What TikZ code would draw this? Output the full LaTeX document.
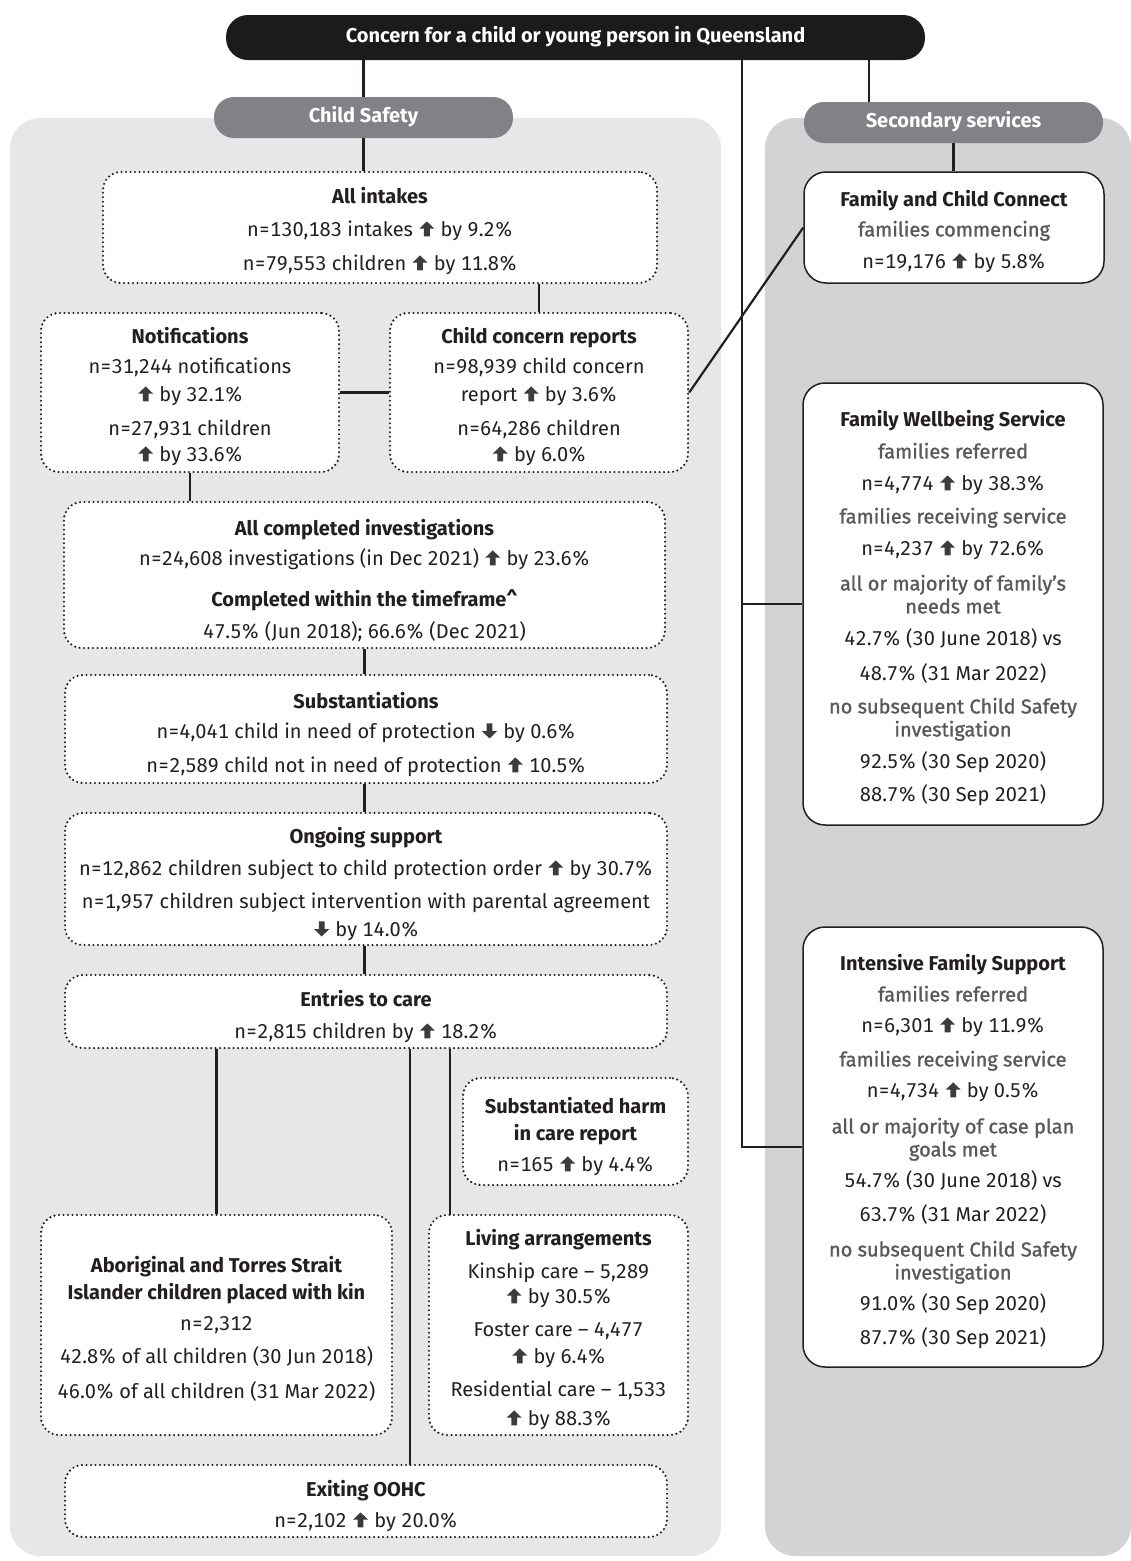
\documentclass[tikz,border=0pt]{standalone}
\usepackage{fontspec}
\setmainfont{Fira Sans}[Numbers={Monospaced,Lining}]
\newfontfamily\medfont[FakeBold=1.2,Numbers={Monospaced,Lining}]{Fira Sans}
\usetikzlibrary{fit}
\definecolor{panelA}{HTML}{E6E7E8}
\definecolor{panelB}{HTML}{D1D3D4}
\definecolor{pillc}{HTML}{808285}
\definecolor{barc}{HTML}{1C1A1B}
\definecolor{ink}{HTML}{231F20}
\definecolor{subc}{HTML}{58595B}
\definecolor{arrowc}{HTML}{3D3B3C}
\newcommand\uarr{\hspace{1pt}\tikz[baseline=0pt,x=1pt,y=1pt]{\fill[arrowc] (-2.9,0)--(-2.9,7.8)--(-7.5,7.8)--(0,15)--(7.5,7.8)--(2.9,7.8)--(2.9,0)--cycle;}\hspace{1pt}}
\newcommand\darr{\hspace{1pt}\tikz[baseline=0pt,x=1pt,y=1pt]{\fill[arrowc] (-2.9,15)--(-2.9,7.2)--(-7.5,7.2)--(0,0)--(7.5,7.2)--(2.9,7.2)--(2.9,15)--cycle;}\hspace{1pt}}
\newcommand\subtl[1]{{\medfont\color{subc}#1}}
\newcommand\ttl[1]{{\bfseries#1}}
\begin{document}
\begin{tikzpicture}[x=1pt,y=-1pt,
  dbox/.style={draw=ink, fill=white, rounded corners=18pt, dash pattern=on 0pt off 4.5pt, line cap=round, line width=2.4pt, inner sep=0pt},
  sbox/.style={draw=ink, fill=white, rounded corners=22pt, line width=1.5pt, inner sep=0pt},
  txt/.style={anchor=north, inner sep=0pt, align=center, font=\fontsize{20}{24}\selectfont, text=ink},
  pill/.style={fill=pillc, rounded corners=20pt, text=white, font=\bfseries\fontsize{20}{24}\selectfont, inner sep=0pt, text height=14pt, text depth=4pt, minimum width=299pt, minimum height=41pt},
  con/.style={draw=ink, line width=2.2pt}]
\useasboundingbox (0,0) rectangle (1131,1561);
% panels
\fill[panelA, rounded corners=30pt] (10,118) rectangle (721,1556);
\fill[panelB, rounded corners=30pt] (765,118) rectangle (1131,1556);
% header nodes
\node[fill=barc, rounded corners=22pt, text=white, font=\bfseries\fontsize{20}{24}\selectfont, inner sep=0pt, text height=14pt, text depth=4pt, minimum width=699pt, minimum height=45pt] (bar) at (575.5,37.5) {Concern for a child or young person in Queensland};
\node[pill] (cspill) at (363.5,117.5) {Child Safety};
\node[pill] (secpill) at (953.5,122.5) {Secondary services};
% boxes child safety
\node[dbox, fit={(103,172) (657,283)}] (intakes) {};
\node[dbox, fit={(41,313) (339,472)}] (notif) {};
\node[dbox, fit={(390,313) (688,472)}] (ccr) {};
\node[dbox, fit={(64,502) (665,648)}] (aci) {};
\node[dbox, fit={(65,675) (667,783)}] (subst) {};
\node[dbox, fit={(65,813) (667,945)}] (ongoing) {};
\node[dbox, fit={(65,975) (667,1048)}] (entries) {};
\node[dbox, fit={(463,1078) (688,1185)}] (sharm) {};
\node[dbox, fit={(41,1215) (392,1435)}] (abor) {};
\node[dbox, fit={(429,1215) (688,1435)}] (living) {};
\node[dbox, fit={(65,1465) (667,1537)}] (oohc) {};
% boxes secondary
\node[sbox, fit={(804,172) (1104,283)}] (fcc) {};
\node[sbox, fit={(803,383) (1103,825)}] (fws) {};
\node[sbox, fit={(803,927) (1103,1367)}] (ifs) {};
% connector coordinates
\coordinate (j1) at (869,60);
\coordinate (j2) at (742,60);
\coordinate (j3) at (410,1465);
\coordinate (j4) at (450,1215);
% connectors
\draw[con] (cspill.north) -- (cspill.north |- bar.south);
\draw[con] (j1) -- (j1 |- secpill.north);
\draw[con] (j2) |- (ifs.west);
\draw[con] (fws.west) -- (fws.west -| j2);
\draw[con] (cspill.south) -- (cspill.south |- intakes.north);
\draw[con] (secpill.south) -- (secpill.south |- fcc.north);
\draw[con] (ccr.north) -- (ccr.north |- intakes.south);
\draw[con] (notif.east) -- (ccr.west);
\draw[con] (ccr.east) -- (fcc.west);
\draw[con] (notif.south) -- (notif.south |- aci.north);
\draw[con] (aci.south) -- (aci.south |- subst.north);
\draw[con] (aci.south |- subst.south) -- (aci.south |- ongoing.north);
\draw[con] (aci.south |- ongoing.south) -- (aci.south |- entries.north);
\draw[con] (abor.north) -- (abor.north |- entries.south);
\draw[con] (j3) -- (j3 |- entries.south);
\draw[con] (j4) -- (j4 |- entries.south);
% texts
\node[txt] (intakes-t) at (380,187) {\ttl{All intakes}\\[9pt]
 n=130,183 intakes \uarr{} by 9.2\%\\[10pt]
 n=79,553 children \uarr{} by 11.8\%};
\node[txt] (notif-t) at (190,327) {\ttl{Notifications}\\[6pt]
 n=31,244 notifications\\[4pt]
 \uarr{} by 32.1\%\\[10pt]
 n=27,931 children\\[2pt]
 \uarr{} by 33.6\%};
\node[txt] (ccr-t) at (539,327) {\ttl{Child concern reports}\\[6pt]
 n=98,939 child concern\\[4pt]
 report \uarr{} by 3.6\%\\[10pt]
 n=64,286 children\\[2pt]
 \uarr{} by 6.0\%};
\node[txt] (aci-t) at (364.5,519) {\ttl{All completed investigations}\\[6pt]
 n=24,608 investigations (in Dec 2021) \uarr{} by 23.6\%\\[17pt]
 \ttl{Completed within the timeframe\textasciicircum}\\[8pt]
 47.5\% (Jun 2018); 66.6\% (Dec 2021)};
\node[txt] (subst-t) at (366,692) {\ttl{Substantiations}\\[6pt]
 n=4,041 child in need of protection \darr{} by 0.6\%\\[10pt]
 n=2,589 child not in need of protection \uarr{} 10.5\%};
\node[txt] (ongoing-t) at (366,827) {\ttl{Ongoing support}\\[8pt]
 n=12,862 children subject to child protection order \uarr{} by 30.7\%\\[9pt]
 n=1,957 children subject intervention with parental agreement\\[4pt]
 \darr{} by 14.0\%};
\node[txt] (entries-t) at (366,990) {\ttl{Entries to care}\\[8pt]
 n=2,815 children by \uarr{} 18.2\%};
\node[txt] (sharm-t) at (575.5,1097) {\ttl{Substantiated harm}\\[3pt]
 \ttl{in care report}\\[7pt]
 n=165 \uarr{} by 4.4\%};
\node[txt] (abor-t) at (216.5,1256) {\ttl{Aboriginal and Torres Strait}\\[3pt]
 \ttl{Islander children placed with kin}\\[7pt]
 n=2,312\\[9pt]
 42.8\% of all children (30 Jun 2018)\\[11pt]
 46.0\% of all children (31 Mar 2022)};
\node[txt] (living-t) at (558.5,1229) {\ttl{Living arrangements}\\[9pt]
 Kinship care -- 5,289\\[1pt]
 \uarr{} by 30.5\%\\[9pt]
 Foster care -- 4,477\\[3pt]
 \uarr{} by 6.4\%\\[9pt]
 Residential care -- 1,533\\[5pt]
 \uarr{} by 88.3\%};
\node[txt] (oohc-t) at (366,1480) {\ttl{Exiting OOHC}\\[7pt]
 n=2,102 \uarr{} by 20.0\%};
\node[txt] (fcc-t) at (954,190) {\ttl{Family and Child Connect}\\[6pt]
 \subtl{families commencing}\\[8pt]
 n=19,176 \uarr{} by 5.8\%};
\node[txt] (fws-t) at (953,410) {\ttl{Family Wellbeing Service}\\[8pt]
 \subtl{families referred}\\[8pt]
 n=4,774 \uarr{} by 38.3\%\\[9pt]
 \subtl{families receiving service}\\[8pt]
 n=4,237 \uarr{} by 72.6\%\\[11pt]
 \subtl{all or majority of family’s}\\[-1pt]
 \subtl{needs met}\\[8pt]
 42.7\% (30 June 2018) vs\\[11pt]
 48.7\% (31 Mar 2022)\\[9pt]
 \subtl{no subsequent Child Safety}\\[-1pt]
 \subtl{investigation}\\[8pt]
 92.5\% (30 Sep 2020)\\[9pt]
 88.7\% (30 Sep 2021)};
\node[txt] (ifs-t) at (953,954) {\ttl{Intensive Family Support}\\[7pt]
 \subtl{families referred}\\[7pt]
 n=6,301 \uarr{} by 11.9\%\\[10pt]
 \subtl{families receiving service}\\[7pt]
 n=4,734 \uarr{} by 0.5\%\\[12pt]
 \subtl{all or majority of case plan}\\[-1pt]
 \subtl{goals met}\\[7pt]
 54.7\% (30 June 2018) vs\\[10pt]
 63.7\% (31 Mar 2022)\\[11pt]
 \subtl{no subsequent Child Safety}\\[-1pt]
 \subtl{investigation}\\[7pt]
 91.0\% (30 Sep 2020)\\[10pt]
 87.7\% (30 Sep 2021)};
\end{tikzpicture}
\end{document}
